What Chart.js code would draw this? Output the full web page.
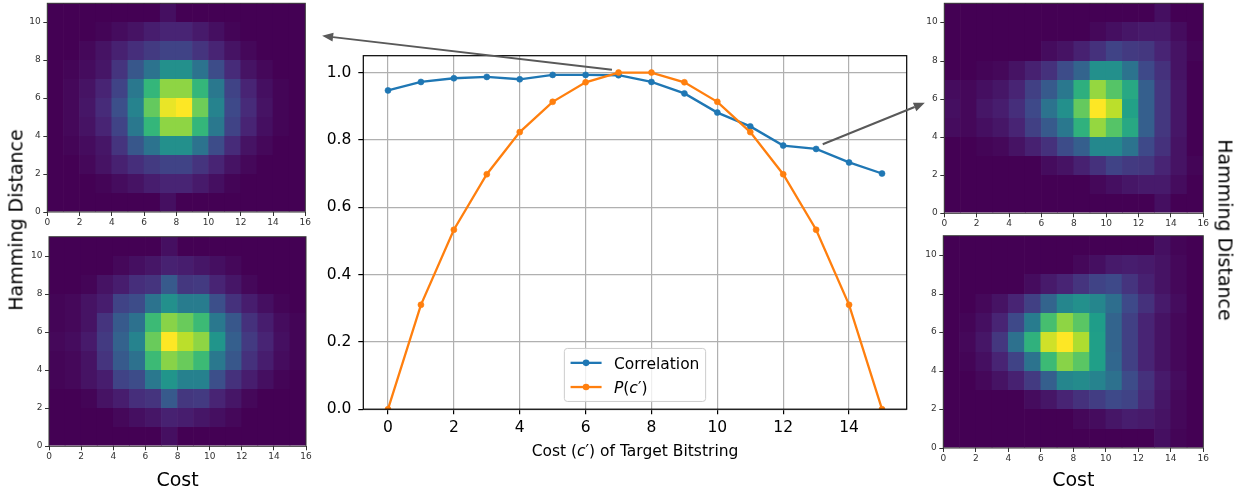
<!DOCTYPE html>
<html>
<head>
<meta charset="utf-8">
<script src="https://cdn.jsdelivr.net/npm/chart.js@4.4.1/dist/chart.umd.min.js"></script>
<style>
  body { margin: 0; background: #fff; width: 1245px; height: 496px; position: relative; overflow: hidden; font-family: "DejaVu Sans", sans-serif; }
  canvas { position: absolute; }
  .side-label { position: absolute; font-size: 19px; line-height: 1; white-space: nowrap; color: #000; transform-origin: 0 0; }
</style>
</head>
<body>
<canvas id="heatTL" width="315" height="232" style="left:0;top:0"></canvas>
<canvas id="heatBL" width="315" height="266" style="left:0;top:230px"></canvas>
<canvas id="heatTR" width="300" height="232" style="left:915px;top:0"></canvas>
<canvas id="heatBR" width="300" height="266" style="left:915px;top:230px"></canvas>
<canvas id="mainChart" width="640" height="460" style="left:300px;top:20px"></canvas>
<div class="side-label" style="left:16px;top:220px;transform:rotate(-90deg) translate(-50%,-50%)">Hamming Distance</div>
<div class="side-label" style="left:1225px;top:230px;transform:rotate(90deg) translate(-50%,-50%)">Hamming Distance</div>

<script>
// ---- data ----
const costs = [0, 1, 2, 3, 4, 5, 6, 7, 8, 9, 10, 11, 12, 13, 14, 15];
const correlation = [0.947, 0.972, 0.983, 0.987, 0.980, 0.993, 0.993, 0.992, 0.972, 0.938, 0.881, 0.840, 0.783, 0.773, 0.733, 0.700];
const probCost = [0, 0.31, 0.533, 0.698, 0.823, 0.913, 0.971, 1.0, 1.0, 0.971, 0.913, 0.823, 0.698, 0.533, 0.31, 0];
const seriesNames = ['Correlation', '$P(c′)$'];
const xAxisTitle = 'Cost ($c′$) of Target Bitstring';
const heatXTitle = 'Cost';

// heatmaps: rows listed from Hamming distance 10 (top) down to 0, columns are cost 0..15
const heatTopLeft = [
    [0, 0, 0, 0, 0, 0, 0, 0.04, 0, 0, 0, 0, 0, 0, 0, 0],
    [0, 0, 0, 0.01, 0.03, 0.05, 0.08, 0.1, 0.1, 0.07, 0.04, 0.01, 0, 0, 0, 0],
    [0, 0, 0.02, 0.05, 0.09, 0.13, 0.17, 0.2, 0.2, 0.15, 0.1, 0.05, 0.02, 0, 0, 0],
    [0, 0.01, 0.03, 0.06, 0.15, 0.27, 0.38, 0.5, 0.5, 0.38, 0.23, 0.12, 0.05, 0.02, 0, 0],
    [0, 0.02, 0.05, 0.1, 0.2, 0.4, 0.66, 0.83, 0.83, 0.66, 0.4, 0.2, 0.1, 0.04, 0.01, 0],
    [0, 0.02, 0.06, 0.12, 0.24, 0.45, 0.76, 0.97, 1.0, 0.78, 0.45, 0.22, 0.12, 0.05, 0.01, 0],
    [0, 0.02, 0.05, 0.1, 0.2, 0.4, 0.66, 0.83, 0.83, 0.66, 0.4, 0.2, 0.1, 0.04, 0.01, 0],
    [0, 0.01, 0.03, 0.06, 0.15, 0.27, 0.38, 0.5, 0.5, 0.38, 0.23, 0.12, 0.05, 0.02, 0, 0],
    [0, 0, 0.02, 0.05, 0.09, 0.13, 0.17, 0.2, 0.2, 0.15, 0.1, 0.05, 0.02, 0, 0, 0],
    [0, 0, 0, 0.01, 0.03, 0.05, 0.08, 0.1, 0.1, 0.07, 0.04, 0.01, 0, 0, 0, 0],
    [0, 0, 0, 0, 0, 0, 0, 0.04, 0, 0, 0, 0, 0, 0, 0, 0]
];
const heatBottomLeft = [
    [0, 0, 0, 0, 0, 0, 0, 0.04, 0, 0, 0, 0, 0, 0, 0, 0],
    [0, 0, 0, 0, 0.02, 0.04, 0.06, 0.09, 0.08, 0.06, 0.04, 0.02, 0, 0, 0, 0],
    [0, 0, 0.01, 0.05, 0.08, 0.13, 0.15, 0.28, 0.16, 0.17, 0.1, 0.06, 0.02, 0, 0, 0],
    [0.01, 0.02, 0.05, 0.08, 0.2, 0.23, 0.38, 0.5, 0.42, 0.42, 0.24, 0.14, 0.08, 0.04, 0.01, 0],
    [0.01, 0.02, 0.05, 0.15, 0.28, 0.37, 0.68, 0.82, 0.77, 0.68, 0.4, 0.27, 0.14, 0.08, 0.03, 0.01],
    [0.02, 0.03, 0.07, 0.17, 0.31, 0.45, 0.77, 1.0, 0.9, 0.83, 0.52, 0.3, 0.17, 0.1, 0.04, 0.01],
    [0.01, 0.02, 0.05, 0.15, 0.28, 0.37, 0.68, 0.82, 0.77, 0.68, 0.4, 0.27, 0.14, 0.08, 0.03, 0.01],
    [0.01, 0.02, 0.05, 0.08, 0.2, 0.23, 0.4, 0.52, 0.44, 0.44, 0.24, 0.14, 0.08, 0.04, 0.01, 0],
    [0, 0, 0.01, 0.05, 0.08, 0.13, 0.15, 0.28, 0.16, 0.17, 0.1, 0.06, 0.02, 0, 0, 0],
    [0, 0, 0, 0, 0.02, 0.04, 0.06, 0.09, 0.08, 0.06, 0.04, 0.02, 0, 0, 0, 0],
    [0, 0, 0, 0, 0, 0, 0, 0.04, 0, 0, 0, 0, 0, 0, 0, 0]
];
const heatTopRight = [
    [0, 0, 0, 0, 0, 0, 0, 0, 0, 0, 0, 0, 0, 0.04, 0, 0],
    [0, 0, 0, 0, 0, 0, 0, 0, 0, 0.02, 0.04, 0.06, 0.07, 0.07, 0.03, 0],
    [0, 0, 0, 0, 0, 0, 0.03, 0.05, 0.09, 0.14, 0.2, 0.17, 0.16, 0.1, 0.05, 0.01],
    [0, 0, 0.01, 0.02, 0.05, 0.09, 0.14, 0.23, 0.32, 0.5, 0.5, 0.38, 0.22, 0.14, 0.05, 0],
    [0.03, 0.02, 0.04, 0.06, 0.1, 0.19, 0.28, 0.4, 0.63, 0.84, 0.73, 0.6, 0.3, 0.16, 0.06, 0],
    [0.04, 0.02, 0.06, 0.08, 0.13, 0.22, 0.38, 0.5, 0.76, 1.0, 0.9, 0.57, 0.3, 0.16, 0.06, 0],
    [0.03, 0.02, 0.04, 0.06, 0.1, 0.19, 0.28, 0.4, 0.64, 0.84, 0.73, 0.6, 0.3, 0.16, 0.06, 0],
    [0, 0, 0.01, 0.02, 0.05, 0.09, 0.14, 0.23, 0.3, 0.47, 0.47, 0.38, 0.22, 0.14, 0.05, 0],
    [0, 0, 0, 0, 0, 0, 0.03, 0.05, 0.09, 0.14, 0.2, 0.17, 0.16, 0.1, 0.05, 0.01],
    [0, 0, 0, 0, 0, 0, 0, 0, 0, 0.02, 0.04, 0.06, 0.07, 0.07, 0.03, 0],
    [0, 0, 0, 0, 0, 0, 0, 0, 0, 0, 0, 0, 0, 0.04, 0, 0]
];
const heatBottomRight = [
    [0, 0, 0, 0, 0, 0, 0, 0, 0, 0, 0, 0, 0, 0.04, 0.01, 0],
    [0, 0, 0, 0, 0, 0, 0, 0, 0.02, 0.04, 0.07, 0.08, 0.07, 0.05, 0.02, 0],
    [0, 0, 0, 0, 0, 0.03, 0.07, 0.1, 0.15, 0.2, 0.22, 0.15, 0.09, 0.05, 0.02, 0],
    [0, 0, 0.02, 0.05, 0.1, 0.19, 0.32, 0.46, 0.5, 0.46, 0.36, 0.22, 0.14, 0.07, 0.03, 0],
    [0, 0.01, 0.04, 0.1, 0.22, 0.42, 0.7, 0.83, 0.74, 0.55, 0.32, 0.19, 0.1, 0.05, 0.02, 0],
    [0, 0.02, 0.06, 0.16, 0.37, 0.64, 0.93, 1.0, 0.88, 0.56, 0.32, 0.19, 0.1, 0.05, 0.02, 0],
    [0, 0.01, 0.04, 0.1, 0.2, 0.38, 0.68, 0.82, 0.74, 0.56, 0.33, 0.19, 0.1, 0.05, 0.02, 0],
    [0, 0, 0.02, 0.05, 0.09, 0.17, 0.3, 0.46, 0.48, 0.45, 0.37, 0.23, 0.14, 0.07, 0.03, 0],
    [0, 0, 0, 0, 0, 0.03, 0.06, 0.1, 0.14, 0.18, 0.22, 0.2, 0.12, 0.06, 0.02, 0],
    [0, 0, 0, 0, 0, 0, 0, 0, 0.02, 0.03, 0.06, 0.08, 0.07, 0.05, 0.02, 0],
    [0, 0, 0, 0, 0, 0, 0, 0, 0, 0, 0, 0, 0, 0.04, 0.01, 0]
];

// arrows from the line plot out to the heatmaps, in data units of the middle plot
const arrowNotes = [
    { from: [6.8, 1.008], to: [-2.0, 1.109] },
    { from: [13.2, 0.787], to: [16.3, 0.91] }
];

document.addEventListener("DOMContentLoaded", function() {
    Chart.defaults.font.family = '"DejaVu Sans", sans-serif';
    Chart.defaults.color = '#000';

    // viridis colour map, 10 evenly spaced stops
    const viridisStops = ['#440154', '#482878', '#3e4a89', '#31688e', '#26828e',
                          '#1f9e89', '#35b779', '#6dcd59', '#b4de2c', '#fde725'];
    function hexToRgb(h) {
        return [parseInt(h.slice(1, 3), 16), parseInt(h.slice(3, 5), 16), parseInt(h.slice(5, 7), 16)];
    }
    function viridis(v) {
        const t = Math.min(Math.max(v, 0), 1) * (viridisStops.length - 1);
        const i = Math.min(Math.floor(t), viridisStops.length - 2);
        const f = t - i;
        const a = hexToRgb(viridisStops[i]);
        const b = hexToRgb(viridisStops[i + 1]);
        const c = a.map(function(x, k) { return Math.round(x + (b[k] - x) * f); });
        return 'rgb(' + c.join(',') + ')';
    }

    // text with $...$ spans: letters inside are set in italic like mathtext
    function splitMath(text) {
        const parts = [];
        text.split('$').forEach(function(chunk, i) {
            if (i % 2 === 0) {
                if (chunk) parts.push({ t: chunk, it: false });
                return;
            }
            chunk.split(/([A-Za-z]+)/).forEach(function(s) {
                if (s) parts.push({ t: s, it: /^[A-Za-z]+$/.test(s) });
            });
        });
        return parts;
    }
    function partsWidth(ctx, parts, size) {
        let w = 0;
        parts.forEach(function(p) {
            ctx.font = (p.it ? 'italic ' : '') + size + 'px "DejaVu Sans"';
            w += ctx.measureText(p.t).width;
        });
        return w;
    }
    function drawParts(ctx, parts, x, y, size) {
        ctx.textAlign = 'left';
        ctx.textBaseline = 'alphabetic';
        parts.forEach(function(p) {
            ctx.font = (p.it ? 'italic ' : '') + size + 'px "DejaVu Sans"';
            ctx.fillText(p.t, x, y);
            x += ctx.measureText(p.t).width;
        });
    }

    // ---- heatmaps ----
    const heatFrame = {
        id: 'heatFrame',
        afterDatasetsDraw: function(chart) {
            const a = chart.chartArea;
            const ctx = chart.ctx;
            ctx.save();
            ctx.strokeStyle = '#333';
            ctx.lineWidth = 1;
            ctx.strokeRect(a.left, a.top, a.right - a.left, a.bottom - a.top);
            ctx.restore();
        }
    };

    function buildHeatmap(canvasId, grid, box, title) {
        const cells = [];
        const colors = [];
        grid.forEach(function(row, i) {
            const h = grid.length - 1 - i;
            row.forEach(function(v, c) {
                cells.push({ x: c + 0.5, y: [h, h + 1] });
                colors.push(viridis(v));
            });
        });

        const tickFont = { size: 9 };
        new Chart(document.getElementById(canvasId), {
            type: 'bar',
            data: {
                datasets: [{
                    data: cells,
                    backgroundColor: colors,
                    borderWidth: 0,
                    barPercentage: 1,
                    categoryPercentage: 1.04 // slight overlap so no white seams between columns
                }]
            },
            options: {
                responsive: false,
                animation: false,
                events: [],
                layout: { padding: { top: box.top, right: box.right, left: 0, bottom: 0 } },
                scales: {
                    x: {
                        type: 'linear', min: 0, max: 16, offset: false,
                        ticks: { stepSize: 2, padding: 1, color: '#333', font: tickFont, maxRotation: 0 },
                        grid: { offset: false, drawOnChartArea: false, tickLength: 4, tickColor: '#333' },
                        border: { display: false },
                        title: {
                            display: !!title, text: title || '', color: '#000',
                            font: { size: 19 }, padding: { top: 0, bottom: 3.3 }
                        },
                        afterFit: function(s) { s.height = box.bottom; s.paddingLeft = 0; s.paddingRight = 0; }
                    },
                    y: {
                        min: 0, max: 11,
                        alignToPixels: true, // rows snap to whole pixels, no seams between rows
                        ticks: { stepSize: 2, includeBounds: false, padding: 2.6, color: '#333', font: tickFont },
                        grid: { drawOnChartArea: false, tickLength: 4, tickColor: '#333' },
                        border: { display: false },
                        afterFit: function(s) { s.width = box.left; s.paddingTop = 0; s.paddingBottom = 0; }
                    }
                },
                plugins: { legend: { display: false }, tooltip: { enabled: false } }
            },
            plugins: [heatFrame]
        });
    }

    buildHeatmap('heatTL', heatTopLeft, { left: 47.3, top: 3.3, right: 9.7, bottom: 20 }, null);
    buildHeatmap('heatBL', heatBottomLeft, { left: 49, top: 6.7, right: 9, bottom: 49.7 }, heatXTitle);
    buildHeatmap('heatTR', heatTopRight, { left: 29.3, top: 3.3, right: 11.7, bottom: 18.7 }, null);
    buildHeatmap('heatBR', heatBottomRight, { left: 28.3, top: 5.7, right: 11.7, bottom: 48 }, heatXTitle);

    // ---- middle line plot ----
    const fs = 15.5;

    const axisFrame = {
        id: 'axisFrame',
        afterDatasetsDraw: function(chart) {
            const a = chart.chartArea;
            const ctx = chart.ctx;
            ctx.save();
            ctx.strokeStyle = '#000';
            ctx.lineWidth = 1.2;
            ctx.strokeRect(a.left, a.top, a.right - a.left, a.bottom - a.top);
            ctx.restore();
        }
    };

    const xTitle = {
        id: 'xTitle',
        afterDraw: function(chart) {
            const ctx = chart.ctx;
            const a = chart.chartArea;
            const parts = splitMath(xAxisTitle);
            ctx.save();
            ctx.fillStyle = '#000';
            const w = partsWidth(ctx, parts, fs);
            drawParts(ctx, parts, (a.left + a.right) / 2 - w / 2, a.bottom + 46.8, fs);
            ctx.restore();
        }
    };

    // matplotlib style legend, lower centre of the axes
    const legendBox = {
        id: 'legendBox',
        afterDatasetsDraw: function(chart) {
            const ctx = chart.ctx;
            const a = chart.chartArea;
            const pad = 0.4 * fs, gap = 0.5 * fs, handleLen = 2 * fs, textGap = 0.8 * fs, rowH = 1.06 * fs;
            const items = chart.data.datasets.map(function(ds) {
                return { ds: ds, parts: splitMath(ds.label) };
            });
            ctx.save();
            let textW = 0;
            items.forEach(function(it) { textW = Math.max(textW, partsWidth(ctx, it.parts, fs)); });
            const w = 2 * pad + handleLen + textGap + textW;
            const h = 2 * pad + items.length * rowH + (items.length - 1) * gap;
            const x0 = (a.left + a.right) / 2 - w / 2;
            const y0 = a.bottom - 0.5 * fs - h;

            ctx.beginPath();
            ctx.roundRect(x0, y0, w, h, 3);
            ctx.fillStyle = 'rgba(255,255,255,0.8)';
            ctx.fill();
            ctx.strokeStyle = '#cccccc';
            ctx.lineWidth = 1;
            ctx.stroke();

            items.forEach(function(it, i) {
                const cy = y0 + pad + rowH / 2 + i * (rowH + gap);
                const hx = x0 + pad;
                ctx.strokeStyle = it.ds.borderColor;
                ctx.lineWidth = it.ds.borderWidth;
                ctx.beginPath();
                ctx.moveTo(hx, cy);
                ctx.lineTo(hx + handleLen, cy);
                ctx.stroke();
                ctx.fillStyle = it.ds.borderColor;
                ctx.beginPath();
                ctx.arc(hx + handleLen / 2, cy, it.ds.pointRadius + 0.3, 0, Math.PI * 2);
                ctx.fill();
                ctx.fillStyle = '#000';
                drawParts(ctx, it.parts, hx + handleLen + textGap, cy + 0.38 * fs, fs);
            });
            ctx.restore();
        }
    };

    const arrows = {
        id: 'arrows',
        afterDraw: function(chart) {
            const ctx = chart.ctx;
            const xs = chart.scales.x, ys = chart.scales.y;
            ctx.save();
            ctx.strokeStyle = '#595959';
            ctx.fillStyle = '#595959';
            ctx.lineWidth = 2;
            arrowNotes.forEach(function(n) {
                const x0 = xs.getPixelForValue(n.from[0]), y0 = ys.getPixelForValue(n.from[1]);
                const x1 = xs.getPixelForValue(n.to[0]), y1 = ys.getPixelForValue(n.to[1]);
                const ang = Math.atan2(y1 - y0, x1 - x0);
                const headLen = 11, headHalf = 4.5;
                const bx = x1 - headLen * Math.cos(ang), by = y1 - headLen * Math.sin(ang);
                ctx.beginPath();
                ctx.moveTo(x0, y0);
                ctx.lineTo(bx, by);
                ctx.stroke();
                ctx.beginPath();
                ctx.moveTo(x1, y1);
                ctx.lineTo(bx + headHalf * Math.sin(ang), by - headHalf * Math.cos(ang));
                ctx.lineTo(bx - headHalf * Math.sin(ang), by + headHalf * Math.cos(ang));
                ctx.closePath();
                ctx.fill();
            });
            ctx.restore();
        }
    };

    const gridStyle = { color: '#b0b0b0', lineWidth: 1.2, tickLength: 5, tickColor: '#000', tickWidth: 1.2 };

    new Chart(document.getElementById('mainChart'), {
        type: 'line',
        data: {
            labels: costs,
            datasets: [{
                    label: seriesNames[0],
                    data: correlation,
                    borderColor: '#1f77b4',
                    backgroundColor: '#1f77b4',
                    borderWidth: 2.3,
                    pointRadius: 3,
                    pointBorderWidth: 0.6,
                    order: 1
                },
                {
                    label: seriesNames[1],
                    data: probCost,
                    borderColor: '#ff7f0e',
                    backgroundColor: '#ff7f0e',
                    borderWidth: 2.3,
                    pointRadius: 3,
                    pointBorderWidth: 0.6,
                    order: 0
                }
            ]
        },
        options: {
            responsive: false,
            animation: false,
            events: [],
            layout: { padding: { top: 35.7, right: 33.3, left: 0, bottom: 0 } },
            scales: {
                x: {
                    type: 'linear', min: -0.75, max: 15.75,
                    ticks: {
                        stepSize: 2, includeBounds: false, padding: 4, maxRotation: 0,
                        font: { size: fs },
                        callback: function(v) { return String(v); }
                    },
                    grid: gridStyle,
                    border: { display: false },
                    afterFit: function(s) { s.height = 70.8; }
                },
                y: {
                    min: 0, max: 1.05,
                    ticks: {
                        stepSize: 0.2, includeBounds: false, padding: 7,
                        font: { size: fs },
                        callback: function(v) { return v.toFixed(1); }
                    },
                    grid: gridStyle,
                    border: { display: false },
                    afterFit: function(s) { s.width = 63.3; s.paddingTop = 0; s.paddingBottom = 0; }
                }
            },
            plugins: { legend: { display: false }, tooltip: { enabled: false } }
        },
        plugins: [axisFrame, legendBox, xTitle, arrows]
    });
});
</script>
</body>
</html>
